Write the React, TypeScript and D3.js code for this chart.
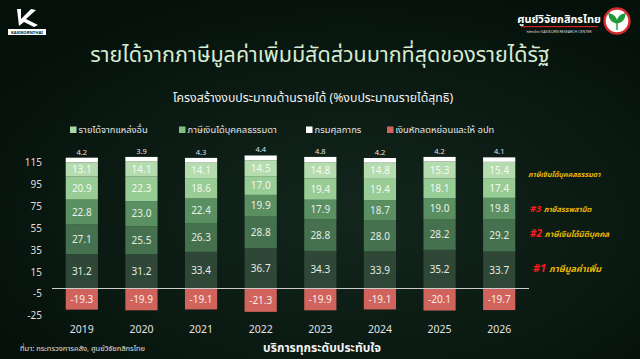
import React from "react";
import * as d3 from "d3";

const years = ["2019", "2020", "2021", "2022", "2023", "2024", "2025", "2026"];
const vat = [31.2, 31.2, 33.4, 36.7, 34.3, 33.9, 35.2, 33.7];
const cit = [27.1, 25.5, 26.3, 28.8, 28.8, 28.0, 28.2, 29.2];
const excise = [22.8, 23.0, 22.4, 19.9, 17.9, 18.7, 19.0, 19.8];
const pit = [20.9, 22.3, 18.6, 17.0, 19.4, 19.4, 18.1, 17.4];
const other = [13.1, 14.1, 14.1, 14.5, 14.8, 14.8, 15.3, 15.4];
const customs = [4.2, 3.9, 4.3, 4.4, 4.8, 4.2, 4.2, 4.1];
const deductions = [-19.3, -19.9, -19.1, -21.3, -19.9, -19.1, -20.1, -19.7];
const yTicks = [115, 95, 75, 55, 35, 15, -5, -25];

const legendItems = [
  { label: "รายได้จากแหล่งอื่น", color: "#a9d8a4" },
  { label: "ภาษีเงินได้บุคคลธรรมดา", color: "#7fbf7f" },
  { label: "กรมศุลกากร", color: "#ffffff" },
  { label: "เงินหักลดหย่อนและให้ อปท", color: "#d0645c" },
];

const annotations = [
  { rank: "", text: "ภาษีเงินได้บุคคลธรรมดา", y: 177, size: 7.2 },
  { rank: "#3", text: "ภาษีสรรพสามิต", y: 212, size: 7.4 },
  { rank: "#2", text: "ภาษีเงินได้นิติบุคคล", y: 237, size: 8 },
  { rank: "#1", text: "ภาษีมูลค่าเพิ่ม", y: 272, size: 9 },
];

const FONT = "'Noto Sans', 'Noto Sans Thai', sans-serif";

export default function App() {
  const W = 640;
  const H = 359;
  const x = d3.scaleBand<string>().domain(years).range([52, 529]).paddingInner(0.46).paddingOuter(0.23);
  const y = d3.scaleLinear().domain([-25, 115]).range([315.9, 162.4]);

  const series = [
    { key: "vat", values: vat, color: "#2f4736", text: "#e4ece4" },
    { key: "cit", values: cit, color: "#45714e", text: "#e4ece4" },
    { key: "excise", values: excise, color: "#5a8f62", text: "#e8f0e8" },
    { key: "pit", values: pit, color: "#98cc95", text: "#f2f8f2" },
    { key: "other", values: other, color: "#b4dcaf", text: "#f4faf4" },
    { key: "customs", values: customs, color: "#ffffff", text: "" },
  ];
  const table = years.map((yr, i) => {
    const row: any = { year: yr };
    series.forEach((s) => (row[s.key] = s.values[i]));
    return row;
  });
  const stacked = d3.stack().keys(series.map((s) => s.key))(table);
  const bw = x.bandwidth();

  return (
    <svg width={W} height={H} style={{ position: "absolute", left: 0, top: 0, display: "block" }} fontFamily={FONT}>
      <defs>
        <radialGradient id="bg" cx="0.55" cy="0.6" r="0.7">
          <stop offset="0" stopColor="#13261c" />
          <stop offset="0.6" stopColor="#0a1912" />
          <stop offset="1" stopColor="#04100a" />
        </radialGradient>
      </defs>
      <rect x={0} y={0} width={W} height={H} fill="url(#bg)" />

      {/* left logo */}
      <g>
        <path d="M17 9 L21 9 L21 19 L31 9 L36 10 L26 19 L38 25 L34 27 L24 22 L19 26 Z" fill="#ffffff" />
        <rect x={8} y={29} width={38} height={6} fill="#ffffff" />
        <text x={27} y={33.6} fontSize={4.2} fontWeight="bold" fill="#10231a" textAnchor="middle">KASIKORNTHAI</text>
      </g>

      {/* right logo */}
      <g>
        <text x={559} y={23} fontSize={11} fontWeight="bold" fill="#ffffff" textAnchor="middle">ศูนย์วิจัยกสิกรไทย</text>
        <rect x={521} y={26} width={77} height={1.2} fill="#d02020" />
        <text x={559} y={33} fontSize={3.6} fill="#dddddd" textAnchor="middle">กสิกรไทย KASIKORN RESEARCH CENTER</text>
        <circle cx={617} cy={21} r={12.5} fill="#ffffff" stroke="#d42a2a" strokeWidth={2.4} />
        <path d="M617 30 L617 22 M617 23 Q610 22 609 14 Q616 15 617 23 M617 23 Q624 22 625 14 Q618 15 617 23" fill="#1f9a3a" stroke="#1f9a3a" strokeWidth={1.4} />
      </g>

      {/* title */}
      <text x={320} y={62} fontSize={21.5} fill="#d6ecd2" textAnchor="middle">รายได้จากภาษีมูลค่าเพิ่มมีสัดส่วนมากที่สุดของรายได้รัฐ</text>
      <text x={313} y={102} fontSize={12.3} fill="#f2f2f2" textAnchor="middle">โครงสร้างงบประมาณด้านรายได้ (%งบประมาณรายได้สุทธิ)</text>

      {/* legend */}
      {legendItems.map((d, i) => {
        const lx = [70, 179, 306, 387][i];
        return (
          <g key={d.label}>
            <rect x={lx} y={126.5} width={6.5} height={6.5} fill={d.color} />
            <text x={lx + 8.5} y={133.2} fontSize={9.4} fill="#e6e6e6">{d.label}</text>
          </g>
        );
      })}

      {/* y axis */}
      {yTicks.map((t) => (
        <text key={t} x={42} y={y(t) + 3.5} fontSize={10} fill="#dedede" textAnchor="end">{t}</text>
      ))}

      {/* stacked bars */}
      {stacked.map((layer, li) => (
        <g key={layer.key}>
          {layer.map((d, i) => {
            const x0 = x(years[i])!;
            const y0 = y(d[1]);
            const y1 = y(d[0]);
            const s = series[li];
            return (
              <g key={i}>
                <rect x={x0} y={y0} width={bw} height={y1 - y0} fill={s.color} />
                {s.text ? (
                  <text x={x0 + bw / 2} y={(y0 + y1) / 2 + 3.6} fontSize={10} fill={s.text} textAnchor="middle">
                    {s.values[i].toFixed(1)}
                  </text>
                ) : (
                  <text x={x0 + bw / 2} y={y0 - 3} fontSize={7.5} fill="#e0e0e0" textAnchor="middle">
                    {s.values[i].toFixed(1)}
                  </text>
                )}
              </g>
            );
          })}
        </g>
      ))}

      {/* deductions */}
      {deductions.map((v, i) => {
        const x0 = x(years[i])!;
        return (
          <g key={"d" + i}>
            <rect x={x0} y={y(0)} width={bw} height={y(v) - y(0)} fill="#d0645c" />
            <text x={x0 + bw / 2} y={(y(0) + y(v)) / 2 + 3.6} fontSize={10} fill="#fbecea" textAnchor="middle">
              {v.toFixed(1)}
            </text>
          </g>
        );
      })}

      {/* zero line */}
      <line x1={52} x2={529} y1={y(0)} y2={y(0)} stroke="#cfcfcf" strokeWidth={1} />

      {/* x labels */}
      {years.map((yr) => (
        <text key={yr} x={x(yr)! + bw / 2} y={333} fontSize={10.5} fill="#e2e2e2" textAnchor="middle">{yr}</text>
      ))}

      {/* annotations */}
      {annotations.map((a) => (
        <text key={a.text} x={a.rank === "#1" ? 533 : a.rank ? 530 : 528} y={a.y} fontSize={a.size} fontStyle="italic" fontWeight="bold">
          {a.rank ? <tspan fill="#ff1a1a" fontSize={a.size + 2}>{a.rank + " "}</tspan> : null}
          <tspan fill="#e8b800">{a.text}</tspan>
        </text>
      ))}

      {/* footer */}
      <text x={20} y={351} fontSize={7.5} fill="#e0e0e0">ที่มา: กระทรวงการคลัง, ศูนย์วิจัยกสิกรไทย</text>
      <text x={322} y={352} fontSize={12} fontWeight="bold" fill="#f4f4f4" textAnchor="middle">บริการทุกระดับประทับใจ</text>
    </svg>
  );
}
